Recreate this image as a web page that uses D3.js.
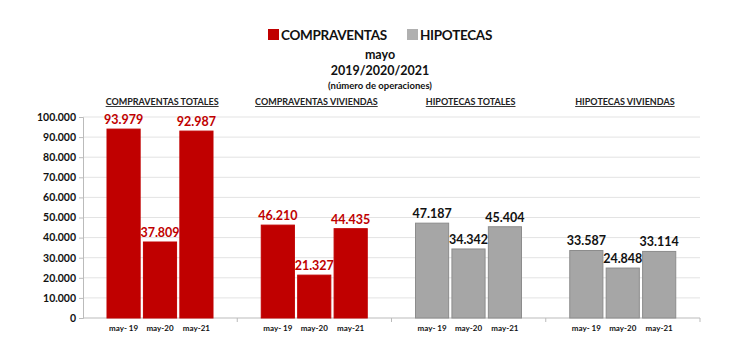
<!DOCTYPE html>
<html>
<head>
	<meta charset="utf-8">
	<script src="https://cdn.jsdelivr.net/npm/d3@7"></script>
	<style type="text/css">
		body { margin: 0; padding: 0; background: #fff; }
		svg text { font-family: Lato, "Open Sans", sans-serif; font-weight: bold; }
	</style>
</head>
<body>
	<script type="text/javascript">

		// data
		var panels = ["COMPRAVENTAS TOTALES", "COMPRAVENTAS VIVIENDAS", "HIPOTECAS TOTALES", "HIPOTECAS VIVIENDAS"];
		var periods = ["may- 19", "may-20", "may-21"];
		var compraventasTotales = [93979, 37809, 92987];
		var compraventasViviendas = [46210, 21327, 44435];
		var hipotecasTotales = [47187, 34342, 45404];
		var hipotecasViviendas = [33587, 24848, 33114];
		var yTicks = [0, 10000, 20000, 30000, 40000, 50000, 60000, 70000, 80000, 90000, 100000];

		var series = [compraventasTotales, compraventasViviendas, hipotecasTotales, hipotecasViviendas];
		var kind = ["c", "c", "h", "h"];
		var fillOf = { c: "#c00000", h: "#a6a6a6" };
		var strokeOf = { c: "#c00000", h: "#8c8c8c" };
		var labelOf = { c: "#c00000", h: "#111" };

		var fmt = function(v){ return v === 0 ? "0" : d3.format(",")(v).replace(/,/g, "."); };

		var W = 750, H = 340;
		var svg = d3.select("body").append("svg").attr("width", W).attr("height", H);

		var x0 = d3.scaleBand().domain(panels).range([83, 700]);
		var x1 = d3.scaleBand().domain(periods).range([24, 130]).paddingInner(0.09);
		var y = d3.scaleLinear().domain([0, 100000]).range([318, 117]);

		// gridlines
		svg.append("g").selectAll("line").data(yTicks.slice(1)).enter().append("line")
			.attr("x1", 83).attr("x2", 700)
			.attr("y1", function(d){ return y(d); }).attr("y2", function(d){ return y(d); })
			.attr("stroke", "#e3e3e3").attr("stroke-width", 1);

		// y axis
		var yAxis = svg.append("g").attr("transform", "translate(83,0)")
			.call(d3.axisLeft(y).tickValues(yTicks).tickFormat(fmt).tickSize(4));
		yAxis.select(".domain").attr("stroke", "#bbb");
		yAxis.selectAll(".tick line").attr("stroke", "#bbb");
		yAxis.selectAll("text").attr("font-size", "10.5px").attr("fill", "#111").attr("font-family", "Lato, sans-serif").attr("font-weight", "bold");

		// x axis (baseline + group separators)
		svg.append("line").attr("x1", 83).attr("x2", 700).attr("y1", y(0)).attr("y2", y(0)).attr("stroke", "#bbb");
		svg.append("g").selectAll("line").data(panels).enter().append("line")
			.attr("x1", function(d){ return x0(d) + x0.bandwidth(); })
			.attr("x2", function(d){ return x0(d) + x0.bandwidth(); })
			.attr("y1", y(0)).attr("y2", y(0) + 4).attr("stroke", "#bbb");

		// groups
		var groups = svg.selectAll("g.panel").data(panels).enter().append("g")
			.attr("class", "panel")
			.attr("transform", function(d){ return "translate(" + x0(d) + ",0)"; });

		groups.append("text")
			.attr("x", x0.bandwidth() / 2 + 2).attr("y", 105)
			.attr("text-anchor", "middle").attr("font-size", "9px").attr("fill", "#222")
			.attr("text-decoration", "underline")
			.text(function(d){ return d; });

		groups.each(function(p, i){
			var g = d3.select(this);
			var vals = series[i].map(function(v, j){ return { p: periods[j], v: v }; });
			g.selectAll("rect").data(vals).enter().append("rect")
				.attr("x", function(d){ return x1(d.p); })
				.attr("width", x1.bandwidth())
				.attr("y", function(d){ return y(d.v); })
				.attr("height", function(d){ return y(0) - y(d.v); })
				.attr("fill", fillOf[kind[i]]).attr("stroke", strokeOf[kind[i]]).attr("stroke-width", 1);
			g.selectAll("text.val").data(vals).enter().append("text")
				.attr("class", "val")
				.attr("x", function(d){ return x1(d.p) + x1.bandwidth() / 2; })
				.attr("y", function(d){ return y(d.v) - 5; })
				.attr("text-anchor", "middle").attr("font-size", "12.5px")
				.attr("fill", labelOf[kind[i]])
				.text(function(d){ return fmt(d.v); });
			g.selectAll("text.per").data(vals).enter().append("text")
				.attr("class", "per")
				.attr("x", function(d){ return x1(d.p) + x1.bandwidth() / 2; })
				.attr("y", 331)
				.attr("text-anchor", "middle").attr("font-size", "8px").attr("fill", "#111")
				.text(function(d){ return d.p; });
		});

		// legend + titles
		var legend = [["COMPRAVENTAS", "#c00000", 268], ["HIPOTECAS", "#b0b0b0", 407]];
		legend.forEach(function(l){
			svg.append("rect").attr("x", l[2]).attr("y", 29).attr("width", 11).attr("height", 11).attr("fill", l[1]);
			svg.append("text").attr("x", l[2] + 13).attr("y", 40).attr("font-size", "13.5px")
				.attr("letter-spacing", "-0.3px").attr("fill", "#111").text(l[0]);
		});
		svg.append("text").attr("x", 380).attr("y", 59).attr("text-anchor", "middle").attr("font-size", "12.5px").attr("fill", "#111").text("mayo");
		svg.append("text").attr("x", 380).attr("y", 75).attr("text-anchor", "middle").attr("font-size", "12.5px").attr("fill", "#111").text("2019/2020/2021");
		svg.append("text").attr("x", 380).attr("y", 89).attr("text-anchor", "middle").attr("font-size", "9.5px").attr("fill", "#111").text("(número de operaciones)");

	</script>
</body>
</html>
